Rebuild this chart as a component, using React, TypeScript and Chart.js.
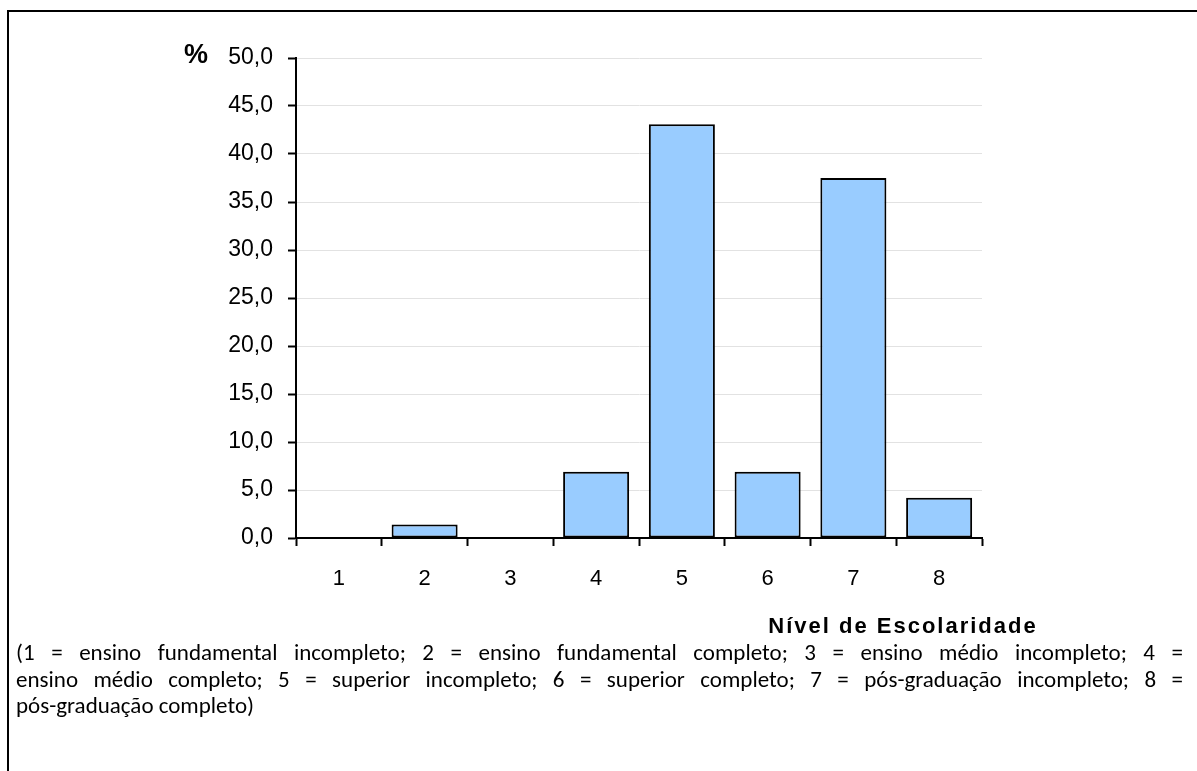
import React, { useEffect, useRef } from "react";
import { Chart, registerables } from "chart.js";

Chart.register(...registerables);

// Education level codes on the x axis and the share of respondents (%) in each
const categories = ["1", "2", "3", "4", "5", "6", "7", "8"];
const percentages = [0, 1.4, 0, 6.9, 43.1, 6.9, 37.5, 4.2];

const yMin = 0;
const yMax = 50;
const yStep = 5;

const yAxisLabel = "%";
const xAxisLabel = "Nível de Escolaridade";

const captionLines = [
  "(1 = ensino fundamental incompleto; 2 = ensino fundamental completo; 3 = ensino médio incompleto; 4 =",
  "ensino médio completo; 5 = superior incompleto; 6 = superior completo; 7 = pós-graduação incompleto; 8 =",
  "pós-graduação completo)",
];

const AXIS_FONT = '"Liberation Sans", Arial, Helvetica, sans-serif';
const CAPTION_FONT = 'Carlito, Calibri, "Noto Sans", sans-serif';

// Axis titles drawn beside the plot: "%" above the value labels, the level title under the categories
const axisTitles = {
  id: "axisTitles",
  afterDraw(chart: any) {
    const { ctx, chartArea } = chart;
    ctx.save();
    ctx.fillStyle = "#000";
    ctx.textBaseline = "alphabetic";

    ctx.font = `bold 27px ${AXIS_FONT}`;
    ctx.textAlign = "right";
    ctx.fillText(yAxisLabel, chartArea.left - 88, chartArea.top + 5);

    ctx.font = `bold 22px ${AXIS_FONT}`;
    ctx.textAlign = "center";
    (ctx as any).letterSpacing = "2px";
    ctx.fillText(xAxisLabel, chartArea.right - 79, chartArea.bottom + 95);
    ctx.restore();
  },
};

export default function App() {
  const canvasRef = useRef<HTMLCanvasElement | null>(null);

  useEffect(() => {
    const canvas = canvasRef.current;
    if (!canvas) return;
    const chart = new Chart(canvas, {
      type: "bar",
      data: {
        labels: categories,
        datasets: [
          {
            data: percentages,
            backgroundColor: "#99CCFF",
            borderColor: "#000000",
            borderWidth: 2,
            borderSkipped: false,
            barPercentage: 0.77,
            categoryPercentage: 1,
          },
        ],
      },
      options: {
        responsive: false,
        maintainAspectRatio: false,
        animation: false,
        devicePixelRatio: 1,
        layout: { padding: { top: 58, left: 0, right: 215, bottom: 0 } },
        plugins: {
          legend: { display: false },
          tooltip: { enabled: false },
          title: { display: false },
        },
        scales: {
          x: {
            offset: true,
            afterFit(scale: any) {
              scale.height = 112;
            },
            grid: {
              display: true,
              offset: true,
              drawOnChartArea: false,
              drawTicks: true,
              tickLength: 8,
              tickColor: "#000",
              tickWidth: 2,
            },
            border: { display: true, color: "#000", width: 2 },
            ticks: {
              color: "#000",
              padding: 20,
              font: { family: AXIS_FONT, size: 22 },
            },
          },
          y: {
            min: yMin,
            max: yMax,
            afterFit(scale: any) {
              scale.width = 296;
            },
            grid: {
              color: "#e2e2e2",
              lineWidth: 1,
              drawTicks: true,
              tickLength: 8,
              tickColor: "#000",
              tickWidth: 2,
            },
            border: { display: true, color: "#000", width: 2 },
            ticks: {
              stepSize: yStep,
              color: "#000",
              padding: 15,
              font: { family: AXIS_FONT, size: 23 },
              callback: (v: any) => Number(v).toFixed(1).replace(".", ","),
            },
          },
        },
      },
      plugins: [axisTitles],
    });
    return () => chart.destroy();
  }, []);

  return (
    <div
      style={{
        position: "absolute",
        left: 0,
        top: 0,
        width: 1197,
        height: 771,
        background: "#fff",
        overflow: "hidden",
      }}
    >
      <div
        style={{
          position: "absolute",
          left: 7,
          top: 10,
          width: 1200,
          height: 800,
          borderTop: "2px solid #000",
          borderLeft: "2px solid #000",
        }}
      />
      <canvas
        ref={canvasRef}
        width={1197}
        height={650}
        style={{ position: "absolute", left: 0, top: 0, width: 1197, height: 650 }}
      />
      <div
        style={{
          position: "absolute",
          left: 16,
          top: 639,
          width: 1167,
          fontFamily: CAPTION_FONT,
          fontSize: 23,
          lineHeight: "26.5px",
          color: "#000",
        }}
      >
        {captionLines.map((line, i) => (
          <div
            key={i}
            style={{
              textAlign: "justify",
              textAlignLast: i < captionLines.length - 1 ? "justify" : "left",
              whiteSpace: "nowrap",
            }}
          >
            {line}
          </div>
        ))}
      </div>
    </div>
  );
}
